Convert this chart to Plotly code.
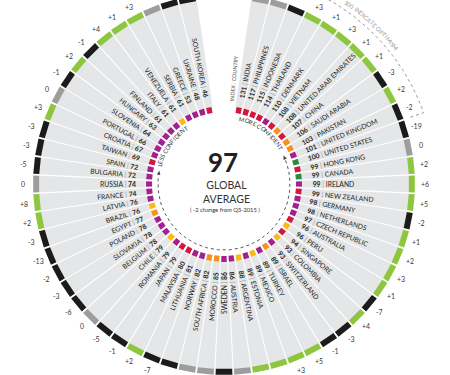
import numpy as np
import plotly.graph_objects as go

# ---------------- data ----------------
countries = ["INDIA", "PHILIPPINES", "INDONESIA", "THAILAND", "DENMARK", "VIETNAM",
             "UNITED ARAB EMIRATES", "CHINA", "SAUDI ARABIA", "PAKISTAN", "UNITED KINGDOM",
             "UNITED STATES", "HONG KONG", "CANADA", "IRELAND", "NEW ZEALAND", "GERMANY",
             "NETHERLANDS", "CZECH REPUBLIC", "AUSTRALIA", "PERU", "SINGAPORE", "COLOMBIA",
             "SWITZERLAND", "ISRAEL", "TURKEY", "MEXICO", "ESTONIA", "ARGENTINA", "AUSTRIA",
             "SWEDEN", "MOROCCO", "SOUTH AFRICA", "NORWAY", "LITHUANIA", "MALAYSIA", "JAPAN",
             "ROMANIA", "CHILE", "BELGIUM", "SLOVAKIA", "POLAND", "EGYPT", "BRAZIL", "LATVIA",
             "FRANCE", "RUSSIA", "BULGARIA", "SPAIN", "TAIWAN", "CROATIA", "PORTUGAL",
             "SLOVENIA", "HUNGARY", "FINLAND", "ITALY", "VENEZUELA", "SERBIA", "GREECE",
             "UKRAINE", "SOUTH KOREA"]
index_values = [131, 117, 115, 114, 110, 108, 108, 107, 106, 103, 101, 100, 99, 99, 99, 99,
                98, 98, 97, 96, 96, 94, 93, 93, 89, 89, 89, 89, 88, 86, 86, 85, 82, 82, 81,
                80, 79, 79, 79, 78, 78, 78, 77, 76, 76, 74, 74, 72, 72, 69, 67, 66, 64, 63,
                61, 61, 61, 61, 53, 48, 46]
changes = [0, 0, -2, 3, 1, 3, 1, 1, -3, 2, -2, -19, 0, 2, 6, 5, -2, 1, 2, 3, 1, -7, 4, -3,
           -1, 5, 3, 9, 4, 0, -3, 0, 0, -5, -7, 2, -1, -5, 0, -6, -3, -2, -13, -3, 2, 8, 0,
           -5, -3, -3, 3, 0, -1, 2, -1, 4, 1, 3, 0, -4, -2]
regions = ["AP", "AP", "AP", "AP", "EU", "AP", "MEA", "AP", "MEA", "MEA", "EU", "NA", "AP",
           "NA", "EU", "AP", "EU", "EU", "EU", "AP", "LA", "AP", "LA", "EU", "MEA", "EU", "LA",
           "EU", "LA", "EU", "EU", "MEA", "MEA", "EU", "EU", "AP", "AP", "EU", "LA", "EU", "EU",
           "EU", "MEA", "LA", "EU", "EU", "EU", "EU", "EU", "AP", "EU", "EU", "EU", "EU", "EU",
           "EU", "LA", "EU", "EU", "EU", "AP"]
global_average = 97
global_change = -2
optimism_threshold = 100

region_colors = {"AP": "#d2183e", "EU": "#a3218e", "MEA": "#f5911e", "LA": "#fbb917", "NA": "#2a8a40"}
pos_color, neg_color, zero_color = "#8dc63f", "#1b1b1b", "#9d9d9d"

# ---------------- geometry helpers ----------------
W, H = 450, 375
CX, CY = 224, 184
N = len(countries)
SLOTS = N + 3
STEP = 360.0 / SLOTS
HALF = STEP / 2
angles = 2 * STEP + STEP * np.arange(N)

FONT = "Lato"


def pol(r, a_deg):
    a = np.radians(a_deg)
    return CX + r * np.sin(a), CY - r * np.cos(a)


def sector(r0, r1, a0, a1, n=14):
    t = np.linspace(a0, a1, n)
    xo, yo = pol(r1, t)
    xi, yi = pol(r0, t[::-1])
    xs = list(xo) + list(xi) + [xo[0]]
    ys = list(yo) + list(yi) + [yo[0]]
    return xs, ys


fig = go.Figure()


def add_polys(polys, color):
    xs, ys = [], []
    for px, py in polys:
        xs += list(px) + [None]
        ys += list(py) + [None]
    fig.add_trace(go.Scatter(x=xs, y=ys, mode="lines", fill="toself", fillcolor=color,
                             line=dict(width=0, color=color), hoverinfo="skip",
                             showlegend=False))


def add_lines(segs, color, width=1, dash="solid"):
    xs, ys = [], []
    for px, py in segs:
        xs += list(px) + [None]
        ys += list(py) + [None]
    fig.add_trace(go.Scatter(x=xs, y=ys, mode="lines", line=dict(width=width, color=color, dash=dash),
                             hoverinfo="skip", showlegend=False))


# gray wedges
add_polys([sector(78.5, 185.5, angles[0] - HALF, angles[-1] + HALF, n=200)], "#e5e6e7")
# white separators
seps = []
for i in range(N - 1):
    a = angles[i] + HALF
    x, y = pol(np.array([78.5, 186.0]), a)
    seps.append((x, y))
add_lines(seps, "white", width=1.1)

# inner region squares
for reg, col in region_colors.items():
    polys = []
    dg = np.degrees(1.0 / 75)
    for i in range(N):
        if regions[i] == reg:
            polys.append(sector(72, 78, angles[i] - HALF + dg, angles[i] + HALF - dg, n=5))
    add_polys(polys, col)


# outer change ring
def change_color(c):
    return pos_color if c > 0 else (neg_color if c < 0 else zero_color)


for col in [pos_color, neg_color, zero_color]:
    polys = []
    dg = np.degrees(0.9 / 188)
    for i in range(N):
        if change_color(changes[i]) == col:
            polys.append(sector(185, 191, angles[i] - HALF + dg, angles[i] + HALF - dg, n=8))
    add_polys(polys, col)

# ---------------- text helpers ----------------
CW = {"A": .68, "B": .66, "C": .67, "D": .76, "E": .58, "F": .56, "G": .73, "H": .77, "I": .29,
      "J": .40, "K": .68, "L": .51, "M": .93, "N": .77, "O": .80, "P": .62, "Q": .80, "R": .64,
      "S": .54, "T": .60, "U": .74, "V": .68, "W": 1.02, "X": .66, "Y": .63, "Z": .62, " ": .26}
for d in "0123456789":
    CW[d] = .58


def arc_text(s, r, a_start, fs, color):
    cum = 0.0
    for ch in s:
        w = CW.get(ch, .6) * fs
        if ch != " ":
            a = a_start + np.degrees((cum + w / 2) / r)
            x, y = pol(r, a)
            ta = a if a <= 180 else a - 360
            fig.add_annotation(x=x, y=y, text=ch, textangle=ta, showarrow=False,
                               xanchor="center", yanchor="middle",
                               font=dict(family=FONT, size=fs, color=color))
        cum += w


INV = "color:rgba(0,0,0,0)"


def markup(num, name, right, visible):
    if visible:
        n = f'<span style="font-weight:bold">{num}</span>'
        sep = '<span style="color:#9b9b9b">|</span>'
        nm = name
    else:
        n = f'<span style="{INV};font-weight:bold">{num}</span>'
        sep = f'<span style="{INV}">|</span>'
        nm = f'<span style="{INV}">{name}</span>'
    if right:
        return f"{n} {sep} {nm}"
    return f"{nm} {sep} {n}"


R_LABEL = 88
for i in range(N):
    a = angles[i]
    right = a < 180
    vis = markup(index_values[i], countries[i], right, True)
    inv = markup(index_values[i], countries[i], right, False)
    if right:
        txt = inv + vis
        ta = a - 90
    else:
        txt = vis + inv
        ta = a - 270
    x, y = pol(R_LABEL, a)
    fig.add_annotation(x=x, y=y, text=txt, textangle=ta, showarrow=False,
                       xanchor="center", yanchor="middle", borderpad=0,
                       font=dict(family=FONT, size=6.8, color="#231f20"))

# header
hx, hy = pol(83, angles[0] - STEP)
head_vis = 'INDEX <span style="color:#aaaaaa">|</span> COUNTRY'
head_inv = f'<span style="{INV}">INDEX | COUNTRY</span>'
fig.add_annotation(x=hx, y=hy, text=head_inv + head_vis, textangle=angles[0] - STEP - 90,
                   showarrow=False, xanchor="center", yanchor="middle", borderpad=0,
                   font=dict(family=FONT, size=5.3, color="#555555"))

# change labels
for i in range(N):
    x, y = pol(201, angles[i])
    c = changes[i]
    t = f"+{c}" if c > 0 else (f"{c}" if c < 0 else "0")
    fig.add_annotation(x=x, y=y, text=t, showarrow=False, xanchor="center", yanchor="middle",
                       font=dict(family=FONT, size=7, color="#3a3a3a"))

# optimism arc
opt_idx = [i for i in range(N) if index_values[i] > optimism_threshold]
a0 = angles[opt_idx[0]] - HALF
a1 = angles[opt_idx[-1]] + HALF
t = np.linspace(a0, a1, 120)
ax_, ay_ = pol(212, t)
add_lines([(ax_, ay_)], "#9a9a9a", width=1, dash="dot")
for aa in (a0, a1):
    tx, ty = pol(np.array([198, 212]), aa)
    add_lines([(tx, ty)], "#9a9a9a", width=1, dash="dot")
arc_text(f"SCORES ABOVE {optimism_threshold} INDICATE OPTIMISM", 219, 21.5, 6, "#9a9a9a")

# inner dotted arrow arc
t = np.linspace(69, 277, 150)
ix, iy = pol(66, t)
add_lines([(ix, iy)], "#555555", width=1, dash="dot")
tris = []
for tip, d in ((64.5, 1), (281.5, -1)):
    base = tip + d * np.degrees(4.0 / 66)
    p1 = pol(66, tip)
    p2 = pol(64.2, base)
    p3 = pol(67.8, base)
    tris.append(([p1[0], p2[0], p3[0], p1[0]], [p1[1], p2[1], p3[1], p1[1]]))
add_polys(tris, "#444444")
arc_text("MORE CONFIDENT", 67.5, 13.5, 6, "#333333")
arc_text("LESS CONFIDENT", 67.5, 285, 6, "#333333")

# center texts (boxes stacked so they do not overlap)
fig.add_annotation(x=CX - 1, y=161.5, text=f"<b>{global_average}</b>", showarrow=False,
                   xanchor="center", yanchor="middle", borderpad=0,
                   font=dict(family=FONT, size=26, color="#231f20"))
fig.add_annotation(x=CX + 2, y=177.5, text="GLOBAL<br>AVERAGE", showarrow=False,
                   xanchor="center", yanchor="top", borderpad=0,
                   font=dict(family=FONT, size=10.5, color="#333333"))
fig.add_annotation(x=CX + 1, y=204.5, text=f"( {global_change} change from Q3-2015 )", showarrow=False,
                   xanchor="center", yanchor="top", borderpad=0,
                   font=dict(family=FONT, size=5.8, color="#333333"))

fig.update_layout(width=W, height=H, margin=dict(l=0, r=0, t=0, b=0),
                  paper_bgcolor="white", plot_bgcolor="white",
                  xaxis=dict(range=[0, W], visible=False, fixedrange=True),
                  yaxis=dict(range=[H, 0], visible=False, fixedrange=True),
                  showlegend=False)

fig.write_html("out.html")
